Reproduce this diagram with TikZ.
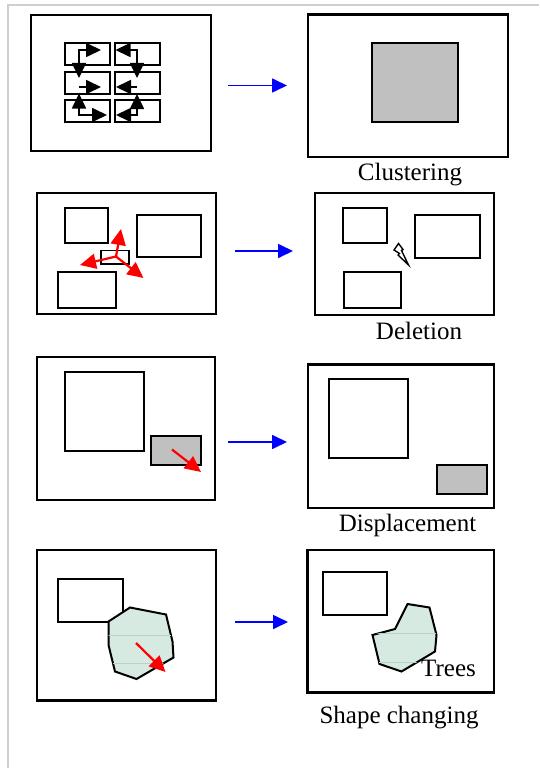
\documentclass[tikz,border=0pt]{standalone}
\usepackage{fontspec}
\setmainfont{Liberation Serif}
\usetikzlibrary{arrows.meta}
\definecolor{framegray}{HTML}{CFCFCF}
\definecolor{boxgray}{HTML}{C0C0C0}
\definecolor{treegreen}{HTML}{D6EAE1}
\definecolor{treeline}{HTML}{B5D6C6}
\tikzset{
  outer/.style={draw=black, line width=2.2pt},
  inner/.style={draw=black, line width=2pt},
  small/.style={draw=black, line width=1.6pt},
  blk/.style={line width=1.7pt, black},
  blktip/.tip={Triangle[length=15pt,width=14pt]},
  bluearrow/.style={draw=blue, line width=1.7pt, -{Triangle[length=15pt,width=14pt]}},
  redarrow/.style={draw=red, line width=2.2pt, -{Triangle[length=16pt,width=15pt]}},
  label/.style={font=\fontsize{25}{30}\selectfont, inner sep=0pt, anchor=center},
  tree/.style={draw=black, line width=2pt, fill=treegreen, line join=miter},
}
\begin{document}
\begin{tikzpicture}[x=1pt,y=-1pt]
\useasboundingbox (0,0) rectangle (539,768);
\fill[white] (0,0) rectangle (539,768);
% page frame
\draw[framegray, line width=2pt] (7.5,768) -- (7.5,5.5) -- (539,5.5);

% ===== Row 1: Clustering =====
\draw[outer] (31,15) rectangle (211,151);
\foreach \x/\w in {65/110,115/160}{
  \draw[small] (\x,43) rectangle (\w,65);
  \draw[small] (\x,72) rectangle (\w,94);
  \draw[small] (\x,100) rectangle (\w,122);
}
\coordinate (c11a) at (101,50); \coordinate (c11b) at (79,50); \coordinate (c11c) at (79,78);
\coordinate (c12a) at (115.5,50); \coordinate (c12b) at (137,50); \coordinate (c12c) at (137,78);
\coordinate (c21a) at (79,87); \coordinate (c21b) at (101,87);
\coordinate (c22a) at (137,87); \coordinate (c22b) at (116,87);
\coordinate (c31a) at (79,93.5); \coordinate (c31b) at (79,115); \coordinate (c31c) at (107,115);
\coordinate (c32a) at (137,94); \coordinate (c32b) at (137,115); \coordinate (c32c) at (116,115);
\draw[blk, {blktip}-{blktip}] (c11a) -- (c11b) -- (c11c);
\draw[blk, {blktip}-{blktip}] (c12a) -- (c12b) -- (c12c);
\draw[blk, -{blktip}] (c21a) -- (c21b);
\draw[blk, -{blktip}] (c22a) -- (c22b);
\draw[blk, {blktip}-{blktip}] (c31a) -- (c31b) -- (c31c);
\draw[blk, {blktip}-{blktip}] (c32a) -- (c32b) -- (c32c);

\coordinate (b1s) at (228,85.5); \coordinate (b1e) at (287,85.5);
\draw[bluearrow] (b1s) -- (b1e);

\draw[outer] (308,14.5) rectangle (508,157);
\draw[inner, fill=boxgray] (372,43) rectangle (458,122);
\node[label] (lclust) at (410,175) {Clustering};

% ===== Row 2: Deletion =====
\draw[outer] (37,193) rectangle (216,314);
\draw[inner] (65,208) rectangle (108,243);
\draw[inner] (137,215) rectangle (201,257);
\draw[inner] (58,272) rectangle (116,308);
\draw[small] (101,250.5) rectangle (129,264);
\coordinate (dc) at (116,256.5);
\coordinate (dup) at (121,229); \coordinate (dleft) at (80,265); \coordinate (dright) at (143.5,278);
\draw[redarrow] (dc) -- (dup);
\draw[redarrow] (dc) -- (dleft);
\draw[redarrow] (dc) -- (dright);

\coordinate (b2s) at (235,251); \coordinate (b2e) at (293,251);
\draw[bluearrow] (b2s) -- (b2e);

\draw[outer] (315,193) rectangle (494,315);
\draw[inner] (343,208) rectangle (387,243);
\draw[inner] (415,215) rectangle (480,258);
\draw[inner] (344,272) rectangle (401,308);
% lightning bolt
\draw[black, line width=1.4pt, fill=white, line join=miter]
  (394,250) -- (398.5,243.5) -- (403,249.5) -- (401.5,250.5) -- (408.5,265)
  -- (398,255) -- (399.5,253.5) -- cycle;
\node[label] (ldel) at (419,331) {Deletion};

% ===== Row 3: Displacement =====
\draw[outer] (37,357) rectangle (215,500);
\draw[inner] (65,372) rectangle (144,451);
\draw[inner, fill=boxgray] (151,436) rectangle (201,465);
\coordinate (ds) at (172,449.5); \coordinate (de) at (201,472);
\draw[redarrow] (ds) -- (de);

\coordinate (b3s) at (228,442); \coordinate (b3e) at (287,442);
\draw[bluearrow] (b3s) -- (b3e);

\draw[outer] (308,364.5) rectangle (494,508);
\draw[inner] (329,378.5) rectangle (408,458);
\draw[inner, fill=boxgray] (437,464.5) rectangle (487,493.5);
\node[label] (ldisp) at (407.5,525) {Displacement};

% ===== Row 4: Shape changing =====
\draw[outer] (37,550) rectangle (216,700.5);
\draw[inner] (58,578.5) rectangle (123,622);
\draw[tree] (108.5,621.5) -- (130,607.5) -- (166,614.5) -- (172.5,641.5) -- (173.5,657.5)
  -- (136.5,679) -- (115,671.5) -- (108.5,645) -- cycle;
\begin{scope}
\clip (108.5,621.5) -- (130,607.5) -- (166,614.5) -- (172.5,641.5) -- (173.5,657.5)
  -- (136.5,679) -- (115,671.5) -- (108.5,645) -- cycle;
\draw[treeline, line width=0.6pt] (100,635) -- (180,635);
\draw[treeline, line width=0.6pt] (100,663) -- (180,663);
\end{scope}
\coordinate (ss) at (136,643); \coordinate (se) at (165.5,672);
\draw[redarrow] (ss) -- (se);

\coordinate (b4s) at (235,622); \coordinate (b4e) at (288,622);
\draw[bluearrow] (b4s) -- (b4e);

\draw[outer] (307.5,550) rectangle (494,692.5);
\draw[inner] (323,572) rectangle (387,615);
\draw[tree] (372.5,635) -- (395,629) -- (407.5,604) -- (429.5,607.5) -- (436.5,635)
  -- (435,651.5) -- (401.5,671.5) -- (379.5,664) -- cycle;
\begin{scope}
\clip (372.5,635) -- (395,629) -- (407.5,604) -- (429.5,607.5) -- (436.5,635)
  -- (435,651.5) -- (401.5,671.5) -- (379.5,664) -- cycle;
\draw[treeline, line width=0.6pt] (370,633) -- (440,633);
\draw[treeline, line width=0.6pt] (370,662) -- (440,662);
\end{scope}
\node[label] (ltrees) at (448.5,668) {Trees};
\node[label] (lshape) at (399,718) {Shape changing};
\end{tikzpicture}
\end{document}
